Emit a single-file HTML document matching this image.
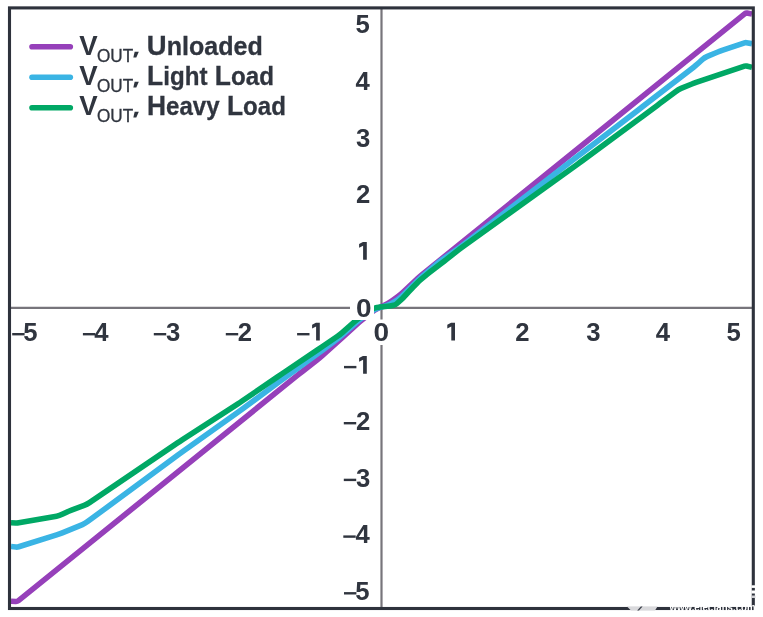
<!DOCTYPE html>
<html><head><meta charset="utf-8"><style>
html,body{margin:0;padding:0;background:#fff;width:763px;height:617px;overflow:hidden}
svg{display:block;filter:blur(0)}
text{font-family:"Liberation Sans",sans-serif;}
</style></head><body>
<svg width="763" height="617" viewBox="0 0 763 617">
<rect x="0" y="0" width="763" height="617" fill="#fff"/>
<defs><clipPath id="plot"><rect x="11" y="9.5" width="741" height="597.5"/></clipPath></defs>

<line x1="381.5" y1="9" x2="381.5" y2="607" stroke="#77757b" stroke-width="2.2"/>
<line x1="11" y1="307.9" x2="752" y2="307.9" stroke="#77757b" stroke-width="2.1"/>
<g clip-path="url(#plot)" fill="none" stroke-width="5.6" stroke-linejoin="round">
<path d="M11.00,601.20 L15.80,601.43 Q17.30,601.50 18.47,600.56 L297.67,375.18 Q300.00,373.30 302.36,371.45 L317.64,359.45 Q320.00,357.60 322.24,355.60 L337.76,341.75 Q340.00,339.75 342.22,337.73 L359.48,322.02 Q361.70,320.00 364.08,318.17 L372.62,311.63 Q375.00,309.80 377.68,308.46 L387.32,303.64 Q390.00,302.30 392.42,300.53 L397.58,296.77 Q400.00,295.00 402.19,292.95 L417.81,278.35 Q420.00,276.30 422.33,274.41 L745.22,13.43 Q746.00,12.80 746.98,13.00 L752.00,14.00" stroke="#9640ba"/>
<path d="M11.00,546.50 L15.81,547.03 Q17.30,547.20 18.73,546.75 L56.64,534.90 Q59.50,534.00 62.27,532.86 L82.43,524.54 Q85.20,523.40 87.61,521.62 L177.59,455.18 Q180.00,453.40 182.45,451.66 L237.55,412.54 Q240.00,410.80 242.41,409.02 L277.59,382.98 Q280.00,381.20 282.42,379.43 L317.58,353.77 Q320.00,352.00 322.39,350.19 L337.61,338.66 Q340.00,336.85 342.25,334.87 L356.95,321.98 Q359.20,320.00 361.66,318.29 L372.54,310.71 Q375.00,309.00 377.87,308.14 L387.13,305.36 Q390.00,304.50 392.54,302.90 L397.46,299.80 Q400.00,298.20 402.13,296.08 L417.87,280.42 Q420.00,278.30 422.29,276.36 L437.71,263.24 Q440.00,261.30 442.45,259.57 L457.55,248.93 Q460.00,247.20 462.37,245.37 L577.63,156.33 Q580.00,154.50 582.38,152.68 L637.62,110.47 Q640.00,108.65 642.37,106.82 L689.72,70.26 Q692.00,68.50 694.25,66.70 L694.75,66.30 Q697.00,64.50 699.12,62.55 L702.39,59.53 Q704.60,57.50 707.37,56.35 L717.23,52.25 Q720.00,51.10 722.84,50.14 L744.55,42.82 Q745.50,42.50 746.48,42.68 L752.00,43.70" stroke="#3ab4e4"/>
<path d="M11.00,522.70 L15.80,522.93 Q17.30,523.00 18.78,522.74 L56.54,516.21 Q59.50,515.70 62.18,514.36 L66.02,512.44 Q68.70,511.10 71.51,510.06 L84.19,505.34 Q87.00,504.30 89.48,502.62 L177.52,442.88 Q180.00,441.20 182.52,439.57 L237.48,404.13 Q240.00,402.50 242.48,400.81 L277.52,376.89 Q280.00,375.20 282.49,373.52 L317.51,349.88 Q320.00,348.20 322.48,346.51 L337.52,336.29 Q340.00,334.60 342.24,332.61 L354.16,321.99 Q356.40,320.00 358.88,318.31 L371.74,309.54 Q374.00,308.00 376.70,307.55 L377.30,307.45 Q380.00,307.00 382.72,306.73 L387.48,306.25 Q390.00,306.00 392.48,305.46 L393.55,305.23 Q395.50,304.80 396.99,303.46 L401.76,299.17 Q402.50,298.50 403.18,297.76 L407.32,293.24 Q408.00,292.50 408.69,291.78 L412.06,288.22 Q412.75,287.50 413.45,286.78 L417.20,282.93 Q418.60,281.50 420.14,280.22 L428.30,273.42 Q430.60,271.50 433.00,269.70 L441.50,263.30 Q443.90,261.50 446.25,259.63 L457.65,250.57 Q460.00,248.70 462.44,246.95 L577.56,164.15 Q580.00,162.40 582.42,160.62 L637.58,119.98 Q640.00,118.20 642.41,116.42 L657.59,105.18 Q660.00,103.40 662.40,101.59 L675.90,91.41 Q678.30,89.60 681.07,88.45 L691.23,84.25 Q694.00,83.10 696.84,82.14 L744.55,66.12 Q745.50,65.80 746.47,66.04 L752.00,67.40" stroke="#00a865"/>
</g>
<rect x="350" y="295" width="24" height="25" fill="#fff"/>
<rect x="369" y="319.5" width="25" height="25.5" fill="#fff"/>
<g font-weight="bold" font-size="25.7" fill="#30353f">
<text x="23.32" y="340.5">5</text>
<rect x="12.20" y="333.00" width="12.4" height="2.4"/>
<text x="94.14" y="340.5">4</text>
<rect x="82.90" y="333.00" width="12.4" height="2.4"/>
<text x="165.94" y="340.5">3</text>
<rect x="153.80" y="333.00" width="12.4" height="2.4"/>
<text x="237.74" y="340.5">2</text>
<rect x="225.80" y="333.00" width="12.4" height="2.4"/>
<path d="M312.10,324.80 L315.90,322.80 L319.80,322.80 L319.80,340.50 L316.10,340.50 L316.10,326.50 L312.10,328.50 Z"/>
<rect x="297.10" y="333.00" width="12.4" height="2.4"/>
<text x="374.27" y="341.5" transform="translate(381.40,0) scale(1.09,1) translate(-381.40,0)">0</text>
<path d="M447.30,324.80 L451.10,322.80 L455.00,322.80 L455.00,340.50 L451.30,340.50 L451.30,326.50 L447.30,328.50 Z"/>
<text x="515.24" y="340.5">2</text>
<text x="586.24" y="340.5">3</text>
<text x="655.84" y="340.5">4</text>
<text x="726.42" y="340.5">5</text>
<text x="355.38" y="32.90">5</text>
<text x="355.44" y="89.60">4</text>
<text x="355.94" y="146.90">3</text>
<text x="356.04" y="203.00">2</text>
<path d="M359.10,244.00 L362.90,242.00 L366.80,242.00 L366.80,259.70 L363.10,259.70 L363.10,245.70 L359.10,247.70 Z"/>
<text x="356.77" y="317.30" transform="translate(363.90,0) scale(1.09,1) translate(-363.90,0)">0</text>
<path d="M359.10,358.00 L362.90,356.00 L366.80,356.00 L366.80,373.70 L363.10,373.70 L363.10,359.70 L359.10,361.70 Z"/>
<rect x="344.00" y="365.90" width="12.4" height="2.4"/>
<text x="356.04" y="429.80">2</text>
<rect x="343.80" y="422.00" width="12.4" height="2.4"/>
<text x="355.94" y="486.50">3</text>
<rect x="343.80" y="478.70" width="12.4" height="2.4"/>
<text x="355.44" y="543.20">4</text>
<rect x="343.30" y="535.40" width="12.4" height="2.4"/>
<text x="355.32" y="599.90">5</text>
<rect x="344.00" y="592.10" width="12.4" height="2.4"/>
</g>
<rect x="9.5" y="7.9" width="743.8" height="600.6" fill="none" stroke="#2e323c" stroke-width="3.1"/>
<path d="M627,606.6 L657.5,606.6 L655,610.6 L631,610.6 Z" fill="#d9d9dc"/>
<path d="M637.2,610.6 L640.8,606.6 L642.6,606.6 L639,610.6 Z" fill="#3a3f49"/>
<clipPath id="wm"><rect x="668" y="606" width="90" height="5"/><rect x="751.4" y="580" width="4" height="26.5"/></clipPath>
<g clip-path="url(#wm)"><text x="669.5" y="611.3" font-size="10.5" font-weight="bold" fill="#fff" textLength="86" lengthAdjust="spacingAndGlyphs">www.elecfans.com</text><rect x="750" y="585.3" width="8" height="2.6" fill="#fff"/><rect x="750" y="590.5" width="8" height="3" fill="#fff"/><rect x="750" y="595.5" width="8" height="2.5" fill="#d0d0d4"/></g>
<line x1="32" y1="46.7" x2="70.3" y2="46.7" stroke="#9640ba" stroke-width="5.6" stroke-linecap="round"/>
<text x="79.31" y="55" fill="#30353f" font-size="27.6" font-weight="bold">V</text>
<text x="96.99" y="61.70" fill="#30353f" font-size="18.75" textLength="36.21" lengthAdjust="spacingAndGlyphs" style="font-weight:normal;stroke:#30353f;stroke-width:0.35">OUT</text>
<path d="M134.7,51.8 L138.8,51.8 L136.3,57.5 L133.3,57.5 Z" fill="#30353f"/>
<text x="146.85" y="54.80" fill="#30353f" font-size="27.6" font-weight="bold" textLength="115.90" lengthAdjust="spacingAndGlyphs" style="stroke:#30353f;stroke-width:0.3">U<tspan font-size="25.2">n</tspan><tspan font-size="25.2">l</tspan><tspan font-size="25.2">o</tspan><tspan font-size="25.2">a</tspan><tspan font-size="25.2">d</tspan><tspan font-size="25.2">e</tspan><tspan font-size="25.2">d</tspan></text>
<line x1="32" y1="77.2" x2="70.3" y2="77.2" stroke="#3ab4e4" stroke-width="5.6" stroke-linecap="round"/>
<text x="79.31" y="85" fill="#30353f" font-size="27.6" font-weight="bold">V</text>
<text x="96.99" y="91.70" fill="#30353f" font-size="18.75" textLength="36.21" lengthAdjust="spacingAndGlyphs" style="font-weight:normal;stroke:#30353f;stroke-width:0.35">OUT</text>
<path d="M134.7,81.8 L138.8,81.8 L136.3,87.5 L133.3,87.5 Z" fill="#30353f"/>
<text x="147.03" y="84.80" fill="#30353f" font-size="27.6" font-weight="bold" textLength="126.86" lengthAdjust="spacingAndGlyphs" style="stroke:#30353f;stroke-width:0.3">L<tspan font-size="25.2">i</tspan><tspan font-size="25.2">g</tspan><tspan font-size="25.2">h</tspan><tspan font-size="25.2">t</tspan> L<tspan font-size="25.2">o</tspan><tspan font-size="25.2">a</tspan><tspan font-size="25.2">d</tspan></text>
<line x1="32" y1="107.7" x2="70.3" y2="107.7" stroke="#00a865" stroke-width="5.6" stroke-linecap="round"/>
<text x="79.31" y="115" fill="#30353f" font-size="27.6" font-weight="bold">V</text>
<text x="96.99" y="121.70" fill="#30353f" font-size="18.75" textLength="36.21" lengthAdjust="spacingAndGlyphs" style="font-weight:normal;stroke:#30353f;stroke-width:0.35">OUT</text>
<path d="M134.7,111.8 L138.8,111.8 L136.3,117.5 L133.3,117.5 Z" fill="#30353f"/>
<text x="147.04" y="114.80" fill="#30353f" font-size="27.6" font-weight="bold" textLength="138.85" lengthAdjust="spacingAndGlyphs" style="stroke:#30353f;stroke-width:0.3">H<tspan font-size="25.2">e</tspan><tspan font-size="25.2">a</tspan><tspan font-size="25.2">v</tspan><tspan font-size="25.2">y</tspan> L<tspan font-size="25.2">o</tspan><tspan font-size="25.2">a</tspan><tspan font-size="25.2">d</tspan></text>
</svg></body></html>
